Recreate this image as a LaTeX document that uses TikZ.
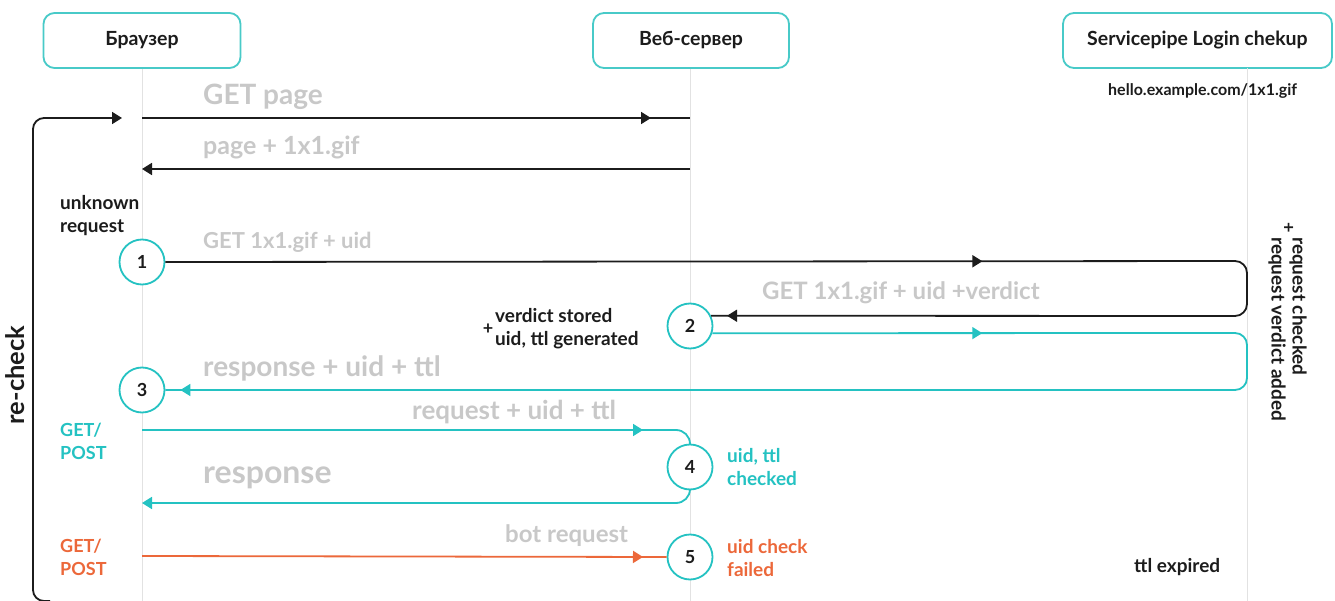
\documentclass[tikz,border=0pt]{standalone}
\usepackage{fontspec}
\setmainfont{Lato}
\usetikzlibrary{arrows.meta,decorations.markings}
\definecolor{teal1}{RGB}{36,194,194}
\definecolor{boxteal}{RGB}{72,202,200}
\definecolor{lgray}{RGB}{200,200,200}
\definecolor{lifeg}{RGB}{226,226,226}
\definecolor{orng}{RGB}{236,104,58}
\definecolor{ink}{RGB}{28,28,28}
\newcommand{\fs}[1]{\fontsize{#1}{#1}\selectfont}
\newcommand{\fsn}[1]{\fontsize{#1}{23}\selectfont}
\tikzset{
  tipA/.tip={Triangle[length=10pt,width=12pt]},
  actor/.style={draw=boxteal, line width=1.8pt, rounded corners=11pt, fill=white,
    minimum height=55pt, inner sep=0pt, font=\bfseries\fs{19.5}, text=ink},
  stepc/.style={circle, draw=teal1, line width=1.8pt, fill=white, minimum size=45pt,
    inner sep=0pt, font=\bfseries\fs{18}, text=ink},
  life/.style={draw=lifeg, line width=1pt},
  blk/.style={draw=ink, line width=1.8pt},
  tl/.style={draw=teal1, line width=1.8pt},
  og/.style={draw=orng, line width=1.8pt},
  marrow/.style={postaction={decorate,decoration={markings,
      mark=at position #1 with {\arrow{tipA}}}}},
  glab/.style={anchor=west, inner sep=0pt, text=lgray, font=\bfseries\fs{#1}},
  note/.style={anchor=west, inner sep=0pt, align=left, text=ink, font=\bfseries\fsn{19}},
  vnote/.style={rotate=-90, anchor=west, inner sep=0pt, text=ink, font=\bfseries\fs{19}},
}
\begin{document}
\begin{tikzpicture}[x=1pt,y=-1pt]
\useasboundingbox[fill=white] (0,0) rectangle (1335,601);

% actors
\node[actor, minimum width=197pt] (br) at (142,40.5) {Браузер};
\node[actor, minimum width=196pt] (ws) at (691,40.5) {Веб-сервер};
\node[actor, minimum width=269pt] (sp) at (1197.5,40.5) {Servicepipe Login chekup};

% lifelines
\coordinate (brB) at (142,601);
\coordinate (wsB) at (690,601);
\coordinate (spT) at (1247,68);
\coordinate (spB) at (1247,601);
\draw[life] (br.south) -- (brB);
\draw[life] (ws.south -| wsB) -- (wsB);
\draw[life] (spT) -- (spB);

\node[anchor=west, inner sep=0pt, text=ink, font=\bfseries\fs{16}] (url) at (1108,91) {hello.example.com/1x1.gif};

% step circles
\node[stepc] (c1) at (142,262) {1};
\node[stepc] (c2) at (690,326) {2};
\node[stepc] (c3) at (142,390) {3};
\node[stepc] (c4) at (690,467) {4};
\node[stepc] (c5) at (690,557) {5};

% GET page
\coordinate (a1s) at (142,118);
\coordinate (a1e) at (690,118);
\draw[blk, marrow=509pt] (a1s) -- (a1e);
\node[glab=28] (t1) at (203,97) {GET page};

% page + 1x1.gif
\coordinate (a2s) at (690,169);
\coordinate (a2e) at (142,169);
\draw[blk, -tipA] (a2s) -- (a2e);
\node[glab=25] (t2) at (203,147) {page + 1x1.gif};

% re-check loop
\coordinate (rcs) at (50,601);
\coordinate (rce) at (122,118);
\draw[blk, rounded corners=11pt, -tipA] (rcs) -- (33,601) -- (33,118) -- (rce);
\node[rotate=90, inner sep=0pt, text=ink, font=\bfseries\fs{25.5}] (rct) at (15,375) {re-check};

\node[note] (unk) at (60,216) {unknown\\request};

% GET 1x1.gif + uid -> back with verdict
\draw[blk, rounded corners=12pt, marrow=817pt, marrow=-16pt]
  (c1.east) -- (1247,261) -- (1247,316) -- (c2.26);
\node[glab=22] (t3) at (203,242) {GET 1x1.gif + uid};
\node[glab=24] (t4) at (762,293) {GET 1x1.gif + uid +verdict};

\node[inner sep=0pt, text=ink, font=\bfseries\fs{18}] (pl1) at (488,329) {+};
\node[note] (vs) at (495,329) {verdict stored\\uid, ttl generated};

% verdict notes on the right
\node[vnote] (rc1) at (1298,237) {request checked};
\node[vnote] (rc2) at (1277,237) {request verdict added};
\node[rotate=-90, inner sep=0pt, text=ink, font=\bfseries\fs{18}] (pl2) at (1288,228) {+};

% response + uid + ttl
\draw[tl, rounded corners=12pt, marrow=270pt, marrow=-15pt]
  (c2.-18) -- (1247,333) -- (1247,390) -- (c3.east);
\node[glab=28] (t5) at (203,368) {response + uid + ttl};

% request + uid + ttl
\coordinate (a5s) at (142,430);
\draw[tl, rounded corners=14pt, marrow=501pt] (a5s) -- (690,430) -- (c4.north);
\node[glab=26] (t6) at (412,412) {request + uid + ttl};
\node[note, text=teal1, font=\bfseries\fsn{18}] (gp1) at (60,441) {GET/\\POST};
\node[note, text=teal1] (chk) at (727,467) {uid, ttl\\checked};

% response
\coordinate (a6e) at (142,503);
\draw[tl, rounded corners=14pt, -tipA] (c4.south) -- (690,503) -- (a6e);
\node[glab=32] (t7) at (203,478) {response};

% bot request
\coordinate (a7s) at (142,556);
\draw[og, marrow=501pt] (a7s) -- (c5.west);
\node[glab=24] (t8) at (505,536) {bot request};
\node[note, text=orng, font=\bfseries\fsn{18}] (gp2) at (60,557) {GET/\\POST};
\node[note, text=orng] (fail) at (727,558) {uid check\\failed};

\node[note] (ttl) at (1134,567) {ttl expired};
\end{tikzpicture}
\end{document}
